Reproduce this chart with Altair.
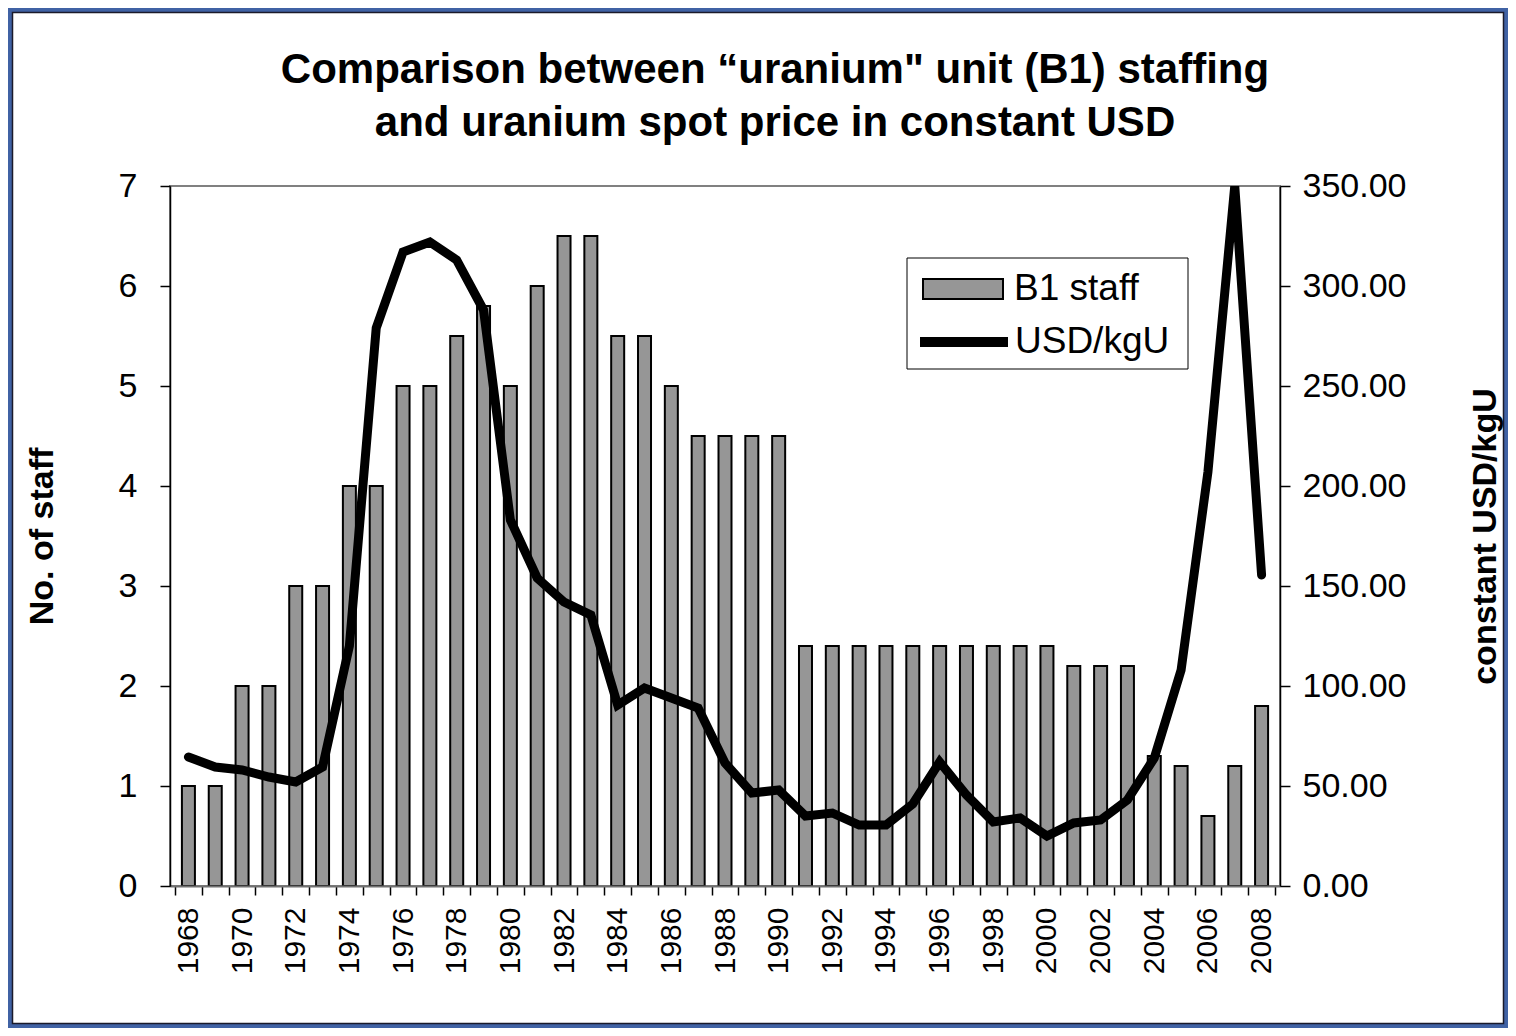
import altair as alt
import pandas as pd

# ---- data ----
years = list(range(1968, 2009))
staff = [1, 1, 2, 2, 3, 3, 4, 4, 5, 5, 5.5, 5.8, 5, 6, 6.5, 6.5, 5.5, 5.5, 5, 4.5, 4.5, 4.5, 4.5,
         2.4, 2.4, 2.4, 2.4, 2.4, 2.4, 2.4, 2.4, 2.4, 2.4,
         2.2, 2.2, 2.2, 1.3, 1.2, 0.7, 1.2, 1.8]
price = [64.5, 59.5, 58, 54.5, 52, 59.5, 120, 279, 317, 322, 313, 288, 183, 154, 142, 135.5,
         90.5, 99, 94, 89, 61.5, 46.5, 48, 35, 36.5, 30.5, 30.5, 41, 62, 45.5, 32, 34, 25,
         31.5, 33, 43, 64, 108, 207, 350, 155.5]
staff_ticks = list(range(0, 8))
price_ticks = list(range(0, 351, 50))
label_years = years[::2]
tick_pos = [y - 0.5 for y in years] + [years[-1] + 0.5]

df = pd.DataFrame({"year": years, "staff": staff, "price": price})

FONT = "Liberation Sans"
W, H = 1110, 700
PAD = {"left": 162, "top": 178, "right": 228, "bottom": 142}

xscale = alt.Scale(domain=[tick_pos[0], tick_pos[-1]], nice=False, zero=False)

# decorative frame (blue outer band + thin dark line)
frame_blue = alt.Chart(alt.Data(values=[{}])).mark_rect(
    fill="white", fillOpacity=0, stroke="#4062a4", strokeWidth=6
).encode(x=alt.value(-161), x2=alt.value(1337), y=alt.value(-177), y2=alt.value(841))
frame_dark = alt.Chart(alt.Data(values=[{}])).mark_rect(
    fill="white", fillOpacity=0, stroke="#1a1a2a", strokeWidth=1.5
).encode(x=alt.value(-157.5), x2=alt.value(1333.5), y=alt.value(-173.5), y2=alt.value(837.5))

bars = alt.Chart(df).transform_calculate(sb='"B1 staff"').mark_bar(
    size=13, stroke="black", strokeWidth=2
).encode(
    x=alt.X("year:Q", scale=xscale,
            axis=alt.Axis(orient="bottom", values=label_years, format="d", labelAngle=270,
                          labelFontSize=30, labelFont=FONT, labelColor="black", ticks=False,
                          labelPadding=21, domain=False, title=None, grid=False,
                          labelFlush=False, labelOverlap=False, labelBound=False, zindex=1)),
    y=alt.Y("staff:Q", scale=alt.Scale(domain=[0, 7], nice=False),
            axis=alt.Axis(orient="left", values=staff_ticks, format="d", title="No. of staff",
                          grid=False, labelFont=FONT, labelFontSize=34, labelColor="black",
                          labelPadding=23, tickSize=10, tickColor="black", tickWidth=1.5,
                          domainColor="black", domainWidth=1.5, zindex=1,
                          titleFont=FONT, titleFontSize=34, titleFontWeight="bold",
                          titleColor="black", titlePadding=59)),
    fill=alt.Fill("sb:N", scale=alt.Scale(domain=["B1 staff"], range=["#969696"]),
                  legend=alt.Legend(title=None, orient="none", legendX=752, legendY=62,
                                    symbolType="M-1,-0.25H1V0.25H-1Z", symbolSize=6400,
                                    symbolStrokeColor="black", symbolStrokeWidth=2,
                                    labelFont=FONT, labelFontSize=37, labelColor="black",
                                    labelOffset=10, padding=0)),
)

line = alt.Chart(df).transform_calculate(sl='"USD/kgU"').mark_line(
    strokeWidth=9, strokeCap="round", clip=True
).encode(
    x=alt.X("year:Q", scale=xscale,
            axis=alt.Axis(orient="bottom", values=tick_pos, labels=False, ticks=True,
                          tickSize=9, tickColor="black", tickWidth=1.5, domainColor="#707070",
                          domainWidth=2, title=None, grid=False, zindex=1)),
    y=alt.Y("price:Q", scale=alt.Scale(domain=[0, 350], nice=False),
            axis=alt.Axis(orient="right", values=price_ticks, format=".2f",
                          title="constant USD/kgU", titleAngle=270, grid=False,
                          labelFont=FONT, labelFontSize=34, labelColor="black",
                          labelPadding=12, tickSize=10, tickColor="black", tickWidth=1.5,
                          domainColor="black", domainWidth=1.5, zindex=1,
                          titleFont=FONT, titleFontSize=34, titleFontWeight="bold",
                          titleColor="black", titlePadding=97)),
    stroke=alt.Stroke("sl:N", scale=alt.Scale(domain=["USD/kgU"], range=["black"]),
                      legend=alt.Legend(title=None, orient="none", legendX=745, legendY=107,
                                        symbolType="stroke", symbolSize=7744,
                                        symbolStrokeWidth=10,
                                        labelFont=FONT, labelFontSize=37, labelColor="black",
                                        labelOffset=2, padding=0)),
)

legend_box = alt.Chart(alt.Data(values=[{}])).mark_rect(
    fill="white", fillOpacity=0, stroke="black", strokeWidth=1
).encode(x=alt.value(737), x2=alt.value(1018), y=alt.value(72), y2=alt.value(183))

chart = alt.layer(frame_blue, frame_dark, bars, line, legend_box).resolve_scale(
    y="independent"
).resolve_axis(x="independent").properties(
    width=W, height=H,
    autosize=alt.AutoSizeParams(type="none"),
    padding=PAD,
    title=alt.TitleParams(
        text=['Comparison between \u201curanium" unit (B1) staffing',
              "and uranium spot price in constant USD"],
        font=FONT, fontSize=42, fontWeight="bold", color="black",
        anchor="middle", frame="group", dx=50, offset=0, dy=139, lineHeight=53),
).configure(background="white").configure_view(stroke="#808080", strokeWidth=2)

chart.save("out.html", embed_options={"renderer": "svg", "actions": False})
